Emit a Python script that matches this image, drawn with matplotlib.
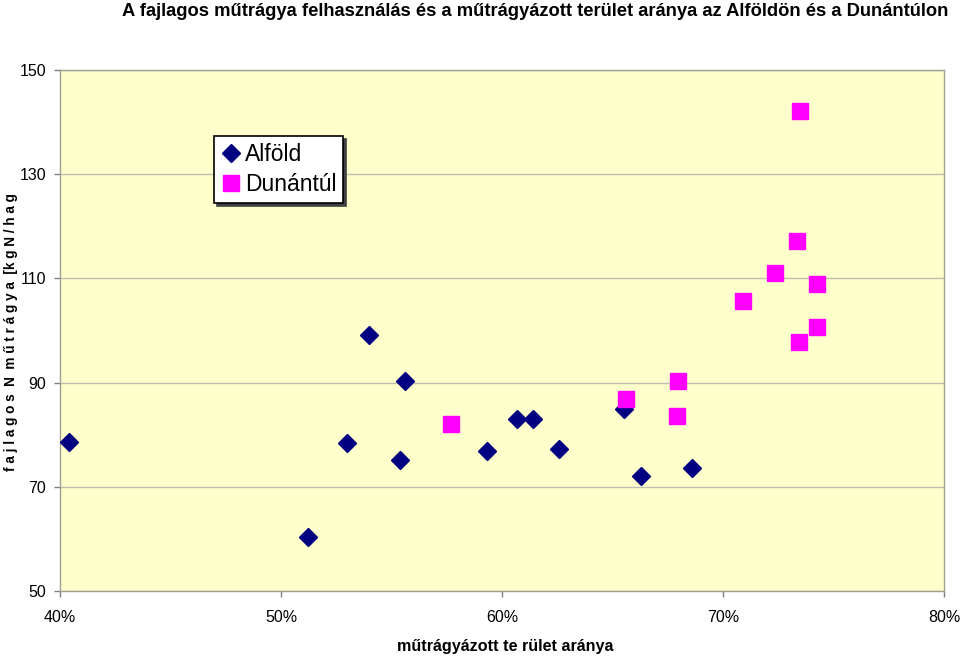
import matplotlib.pyplot as plt
from matplotlib.ticker import FuncFormatter

# Alföld: terület aránya (%) és fajlagos N műtrágya
alfold_x = [40.4, 51.2, 53.0, 54.0, 55.4, 55.6, 59.3, 60.7, 61.4, 62.6, 65.5, 66.3, 68.6]
alfold_y = [78.6, 60.4, 78.4, 99.1, 75.1, 90.3, 76.9, 83.0, 83.0, 77.3, 84.9, 72.1, 73.6]

# Dunántúl
dunantul_x = [57.7, 65.6, 67.95, 67.9, 70.9, 72.35, 73.35, 73.5, 73.45, 74.25, 74.25]
dunantul_y = [82.1, 86.9, 90.3, 83.6, 105.7, 111.0, 117.2, 142.1, 97.8, 108.9, 100.7]

x_ticks = [40, 50, 60, 70, 80]
y_ticks = [50, 70, 90, 110, 130, 150]

arial = ['Liberation Sans', 'DejaVu Sans']

fig = plt.figure(figsize=(9.6, 6.58), dpi=100)
ax = fig.add_axes([0.0625, 0.1018, 0.9208, 0.7918])
ax.set_facecolor('#FFFFCC')

ax.plot(alfold_x, alfold_y, linestyle='none', marker='D', markersize=8.8,
        color='#000080', label='Alföld', zorder=3)
ax.plot(dunantul_x, dunantul_y, linestyle='none', marker='s', markersize=11.5,
        color='#FF00FF', label='Dunántúl', zorder=3)

ax.set_xlim(40, 80)
ax.set_ylim(50, 150)
ax.set_xticks(x_ticks)
ax.set_yticks(y_ticks)
ax.xaxis.set_major_formatter(FuncFormatter(lambda v, p: f"{v:.0f}%"))
ax.grid(axis='y', color='#BDBDB0', linewidth=1)
ax.set_axisbelow(True)
for s in ax.spines.values():
    s.set_color('#A0A090')
    s.set_linewidth(1)
ax.tick_params(axis='both', colors='#808080', length=4, width=1)
for lab in ax.get_xticklabels() + ax.get_yticklabels():
    lab.set_family(arial)
    lab.set_fontsize(11.5)
    lab.set_color('black')
ax.tick_params(axis='x', pad=10)
ax.tick_params(axis='y', pad=6)

leg = ax.legend(loc='upper left', bbox_to_anchor=(0.174, 0.873), borderaxespad=0,
                frameon=True, fancybox=False, shadow={'color': '#404040', 'alpha': 1},
                edgecolor='black', facecolor='white', handletextpad=0.15,
                handlelength=0.9, borderpad=0.3, labelspacing=0.3,
                prop={'family': arial, 'size': 16.5})
leg.get_frame().set_linewidth(1.2)

title = fig.text(0.557, 0.982, "A fajlagos műtrágya felhasználás és a műtrágyázott terület aránya az Alföldön és a Dunántúlon",
                 ha='center', va='center', fontsize=16, fontweight='bold', family=arial)
xlab = fig.text(0.526, 0.017, "műtrágyázott te rület aránya", ha='center', va='center',
                fontsize=13, fontweight='bold', family=arial)
fig.text(0.011, 0.495, "f a j l a g o s  N  m ű t r á g y a  [k g N / h a g", rotation=90,
         ha='center', va='center', fontsize=9.8, fontweight='bold', family=arial)

# narrow-font look: shrink to the reference widths
renderer = fig.canvas.get_renderer()
for t, target in [(title, 826), (xlab, 215)]:
    w = t.get_window_extent(renderer).width
    t.set_fontsize(t.get_fontsize() * target / w)

fig.savefig('out.png', dpi=100)
